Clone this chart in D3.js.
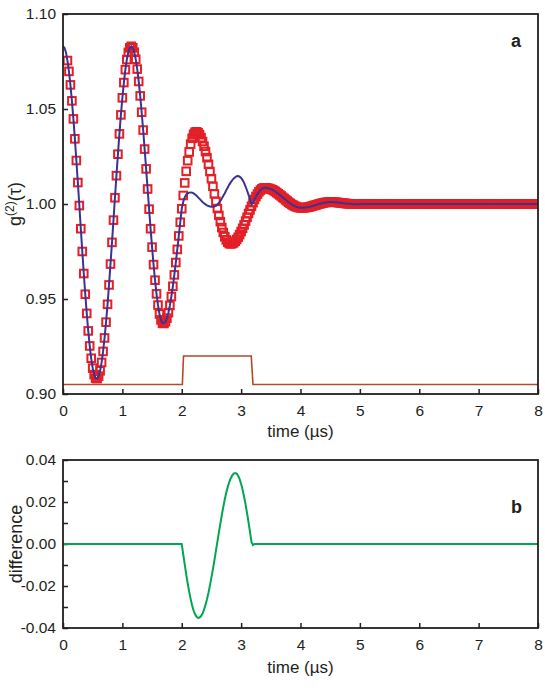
<!DOCTYPE html>
<html><head><meta charset="utf-8">
<script src="https://cdn.jsdelivr.net/npm/d3@7"></script>
<style>body{margin:0;background:#fff}svg{display:block}text{font-family:"Liberation Sans",Arial,Helvetica,sans-serif;fill:#231f20}</style>
</head><body><svg id="c" width="545" height="690"></svg>
<script>
// ---------- DATA ----------
const timeStep = 0.025; // µs, sampling of the time grid (0 … 8 µs)
const time = d3.range(0, 321).map(i => +(i * timeStep).toFixed(3));

// measured g2 (red squares)
const measured = [
null,null,null,1.0755,1.0698,1.0627,1.0543,1.0448,1.0343,1.0229,
1.0113,0.9992,0.9870,0.9750,0.9634,0.9525,0.9424,0.9332,0.9253,0.9188,
0.9136,0.9102,0.9083,0.9081,0.9094,0.9122,0.9166,0.9224,0.9295,0.9378,
0.9472,0.9574,0.9684,0.9798,0.9915,1.0033,1.0149,1.0262,1.0369,1.0469,
1.0559,1.0639,1.0707,1.0760,1.0798,1.0822,1.0830,1.0822,1.0799,1.0762,
1.0710,1.0645,1.0569,1.0483,1.0389,1.0289,1.0185,1.0079,0.9973,0.9870,
0.9773,0.9681,0.9599,0.9527,0.9468,0.9421,0.9390,0.9373,0.9371,0.9380,
0.9399,0.9428,0.9466,0.9513,0.9567,0.9627,0.9692,0.9761,0.9832,0.9904,
0.9975,1.0045,1.0111,1.0172,1.0228,1.0274,1.0315,1.0346,1.0367,1.0378,
1.0380,1.0375,1.0365,1.0349,1.0329,1.0304,1.0276,1.0244,1.0209,1.0171,
1.0133,1.0093,1.0053,1.0014,0.9976,0.9940,0.9907,0.9876,0.9850,0.9828,
0.9811,0.9799,0.9792,0.9790,0.9792,0.9796,0.9804,0.9813,0.9825,0.9839,
0.9855,0.9872,0.9890,0.9910,0.9930,0.9950,0.9969,0.9988,1.0007,1.0024,
1.0039,1.0052,1.0064,1.0073,1.0080,1.0084,1.0085,1.0085,1.0083,1.0081,
1.0078,1.0075,1.0071,1.0066,1.0060,1.0054,1.0048,1.0042,1.0035,1.0029,
1.0022,1.0016,1.0009,1.0004,0.9998,0.9994,0.9989,0.9986,0.9983,0.9981,
0.9980,0.9980,0.9980,0.9981,0.9982,0.9983,0.9985,0.9987,0.9989,0.9992,
0.9994,0.9996,0.9999,1.0001,1.0003,1.0005,1.0007,1.0008,1.0009,1.0010,
1.0010,1.0010,1.0010,1.0009,1.0009,1.0008,1.0007,1.0006,1.0005,1.0004,
1.0003,1.0002,1.0002,1.0001,1.0000,1.0000,0.9999,0.9999,0.9999,0.9999,
0.9999,
1,1,1,1,1,1,1,1,1,1, 1,1,1,1,1,1,1,1,1,1, 1,1,1,1,1,1,1,1,1,1,
1,1,1,1,1,1,1,1,1,1, 1,1,1,1,1,1,1,1,1,1, 1,1,1,1,1,1,1,1,1,1,
1,1,1,1,1,1,1,1,1,1, 1,1,1,1,1,1,1,1,1,1, 1,1,1,1,1,1,1,1,1,1,
1,1,1,1,1,1,1,1,1,1, 1,1,1,1,1,1,1,1,1,1, 1,1,1,1,1,1,1,1,1,1
];

// theory g2 (blue line)
const theory = [
1.0830,1.0822,1.0797,1.0755,1.0698,1.0627,1.0543,1.0448,1.0343,1.0229,
1.0113,0.9992,0.9870,0.9750,0.9634,0.9525,0.9424,0.9332,0.9253,0.9188,
0.9136,0.9102,0.9083,0.9081,0.9094,0.9122,0.9166,0.9224,0.9295,0.9378,
0.9472,0.9574,0.9684,0.9798,0.9915,1.0033,1.0149,1.0262,1.0369,1.0469,
1.0559,1.0639,1.0707,1.0760,1.0798,1.0822,1.0830,1.0822,1.0799,1.0762,
1.0710,1.0645,1.0569,1.0483,1.0389,1.0289,1.0185,1.0079,0.9973,0.9870,
0.9773,0.9681,0.9599,0.9527,0.9468,0.9421,0.9390,0.9373,0.9371,0.9380,
0.9399,0.9428,0.9466,0.9513,0.9567,0.9627,0.9692,0.9761,0.9832,0.9904,
0.9975,1.0012,1.0035,1.0049,1.0056,1.0060,1.0061,1.0060,1.0056,1.0050,
1.0043,1.0035,1.0027,1.0019,1.0011,1.0004,0.9998,0.9993,0.9989,0.9987,
0.9986,0.9986,0.9987,0.9990,0.9997,1.0005,1.0016,1.0029,1.0043,1.0057,
1.0073,1.0087,1.0102,1.0114,1.0125,1.0135,1.0141,1.0146,1.0147,1.0144,
1.0137,1.0126,1.0111,1.0092,1.0071,1.0048,1.0025,0.9998,1.0007,1.0024,
1.0039,1.0052,1.0064,1.0073,1.0080,1.0084,1.0085,1.0085,1.0083,1.0081,
1.0078,1.0075,1.0071,1.0066,1.0060,1.0054,1.0048,1.0042,1.0035,1.0029,
1.0022,1.0016,1.0009,1.0004,0.9998,0.9994,0.9989,0.9986,0.9983,0.9981,
0.9980,0.9980,0.9980,0.9981,0.9982,0.9983,0.9985,0.9987,0.9989,0.9992,
0.9994,0.9996,0.9999,1.0001,1.0003,1.0005,1.0007,1.0008,1.0009,1.0010,
1.0010,1.0010,1.0010,1.0009,1.0009,1.0008,1.0007,1.0006,1.0005,1.0004,
1.0003,1.0002,1.0002,1.0001,1.0000,1.0000,0.9999,0.9999,0.9999,0.9999,
0.9999,
1,1,1,1,1,1,1,1,1,1, 1,1,1,1,1,1,1,1,1,1, 1,1,1,1,1,1,1,1,1,1,
1,1,1,1,1,1,1,1,1,1, 1,1,1,1,1,1,1,1,1,1, 1,1,1,1,1,1,1,1,1,1,
1,1,1,1,1,1,1,1,1,1, 1,1,1,1,1,1,1,1,1,1, 1,1,1,1,1,1,1,1,1,1,
1,1,1,1,1,1,1,1,1,1, 1,1,1,1,1,1,1,1,1,1, 1,1,1,1,1,1,1,1,1,1
];

// gate pulse (brown step)
const pulseTime  = [0, 2.01, 2.03, 3.17, 3.20, 8];
const pulseValue = [0.905, 0.905, 0.920, 0.920, 0.905, 0.905];

// difference (green, panel b)
const diffTime = [0,
2.000,2.025,2.050,2.075,2.100,2.125,2.150,2.175,2.200,2.225,
2.250,2.275,2.300,2.325,2.350,2.375,2.400,2.425,2.450,2.475,
2.500,2.525,2.550,2.575,2.600,2.625,2.650,2.675,2.700,2.725,
2.750,2.775,2.800,2.825,2.850,2.875,2.900,2.925,2.950,2.975,
3.000,3.025,3.050,3.075,3.100,3.125,3.150,3.175,3.200,3.225,
8];
const difference = [0,
0,-0.0049,-0.0097,-0.0144,-0.0187,-0.0227,-0.0262,-0.0293,-0.0317,-0.0335,
-0.0347,-0.0352,-0.0350,-0.0343,-0.0331,-0.0313,-0.0290,-0.0263,-0.0232,-0.0197,
-0.0159,-0.0120,-0.0078,-0.0033,0.0010,0.0054,0.0097,0.0138,0.0177,0.0213,
0.0245,0.0272,0.0295,0.0313,0.0327,0.0335,0.0338,0.0335,0.0325,0.0309,
0.0286,0.0258,0.0225,0.0188,0.0147,0.0103,0.0056,0.0009,-0.0005,0,
0];

const xTicks = [0,1,2,3,4,5,6,7,8];
const yTicksA = [0.90,0.95,1.00,1.05,1.10];
const yTickLabelsA = ["0.90","0.95","1.00","1.05","1.10"];
const yTicksB = [-0.04,-0.03,-0.02,-0.01,0.00,0.01,0.02,0.03,0.04];
const yTickLabelsB = {"-0.04":"-0.04","-0.02":"-0.02","0":"0.00","0.02":"0.02","0.04":"0.04"};

// ---------- LAYOUT ----------
const svg = d3.select("#c");
const L = 63, R = 538;
const A = {top:14, bottom:394};
const B = {top:460, bottom:628};
const x = d3.scaleLinear().domain([0,8]).range([L,R]);
const yA = d3.scaleLinear().domain([0.90,1.10]).range([A.bottom,A.top]);
const yB = d3.scaleLinear().domain([-0.04,0.04]).range([B.bottom,B.top]);

const RED="#e31f27", BLUE="#3a3392", GREEN="#00a651", BROWN="#b4472c";

svg.append("defs").append("clipPath").attr("id","clipA")
  .append("rect").attr("x",L).attr("y",A.top).attr("width",R-L).attr("height",A.bottom-A.top);
svg.select("defs").append("clipPath").attr("id","clipB")
  .append("rect").attr("x",L).attr("y",B.top).attr("width",R-L).attr("height",B.bottom-B.top);

function styleAxis(g){
  g.select(".domain").remove();
  g.selectAll(".tick line").attr("stroke","#231f20").attr("stroke-width",1.5);
  g.selectAll(".tick text").style("font-size","15.5px").attr("fill","#231f20");
}

// ---------- PANEL A ----------
const gA = svg.append("g");
gA.append("g").attr("transform",`translate(0,${A.bottom})`)
  .call(d3.axisBottom(x).tickValues(xTicks).tickFormat(d3.format("d")).tickSize(-5).tickPadding(11))
  .call(styleAxis);
gA.append("g").attr("transform",`translate(${L},0)`)
  .call(d3.axisLeft(yA).tickValues(yTicksA).tickFormat((d,i)=>yTickLabelsA[i]).tickSize(-5).tickPadding(7))
  .call(styleAxis);

const plotA = gA.append("g").attr("clip-path","url(#clipA)");
plotA.append("path")
  .datum(pulseTime.map((t,i)=>[t,pulseValue[i]]))
  .attr("fill","none").attr("stroke",BROWN).attr("stroke-width",1.6)
  .attr("d", d3.line().x(d=>x(d[0])).y(d=>yA(d[1])));

const sq = 7.6;
plotA.append("g").selectAll("rect")
  .data(time.map((t,i)=>[t,measured[i]]).filter(d=>d[1]!==null))
  .join("rect")
  .attr("x",d=>x(d[0])-sq/2).attr("y",d=>yA(d[1])-sq/2)
  .attr("width",sq).attr("height",sq)
  .attr("fill","none").attr("stroke",RED).attr("stroke-width",2);

plotA.append("path")
  .datum(time.map((t,i)=>[t,theory[i]]))
  .attr("fill","none").attr("stroke",BLUE).attr("stroke-width",2)
  .attr("d", d3.line().x(d=>x(d[0])).y(d=>yA(d[1])));

gA.append("rect").attr("x",L).attr("y",A.top).attr("width",R-L).attr("height",A.bottom-A.top)
  .attr("fill","none").attr("stroke","#231f20").attr("stroke-width",1.8);

gA.append("text").attr("x",(L+R)/2).attr("y",437).attr("text-anchor","middle")
  .style("font-size","17px").text("time (µs)");
const tA = gA.append("text").attr("transform",`translate(21,${(A.top+A.bottom)/2}) rotate(-90)`)
  .attr("text-anchor","middle").style("font-size","18px");
tA.append("tspan").text("g");
tA.append("tspan").attr("dy",-7).style("font-size","12px").text("(2)");
tA.append("tspan").attr("dy",7).text("(τ)");
gA.append("text").attr("x",511).attr("y",47).style("font-size","18px").style("font-weight","bold").text("a");

// ---------- PANEL B ----------
const gB = svg.append("g");
gB.append("g").attr("transform",`translate(0,${B.bottom})`)
  .call(d3.axisBottom(x).tickValues(xTicks).tickFormat(d3.format("d")).tickSize(-5).tickPadding(11))
  .call(styleAxis);
gB.append("g").attr("transform",`translate(${L},0)`)
  .call(d3.axisLeft(yB).tickValues(yTicksB)
    .tickFormat(d=>{const k=String(+d.toFixed(2)); return yTickLabelsB[k]||"";})
    .tickSize(-5).tickPadding(7))
  .call(styleAxis);

gB.append("g").attr("clip-path","url(#clipB)").append("path")
  .datum(diffTime.map((t,i)=>[t,difference[i]]))
  .attr("fill","none").attr("stroke",GREEN).attr("stroke-width",2)
  .attr("d", d3.line().x(d=>x(d[0])).y(d=>yB(d[1])));

gB.append("rect").attr("x",L).attr("y",B.top).attr("width",R-L).attr("height",B.bottom-B.top)
  .attr("fill","none").attr("stroke","#231f20").attr("stroke-width",1.8);

gB.append("text").attr("x",(L+R)/2).attr("y",673).attr("text-anchor","middle")
  .style("font-size","17px").text("time (µs)");
gB.append("text").attr("transform",`translate(22,${(B.top+B.bottom)/2}) rotate(-90)`)
  .attr("text-anchor","middle").style("font-size","18px").text("difference");
gB.append("text").attr("x",511).attr("y",513).style("font-size","18px").style("font-weight","bold").text("b");
</script></body></html>
